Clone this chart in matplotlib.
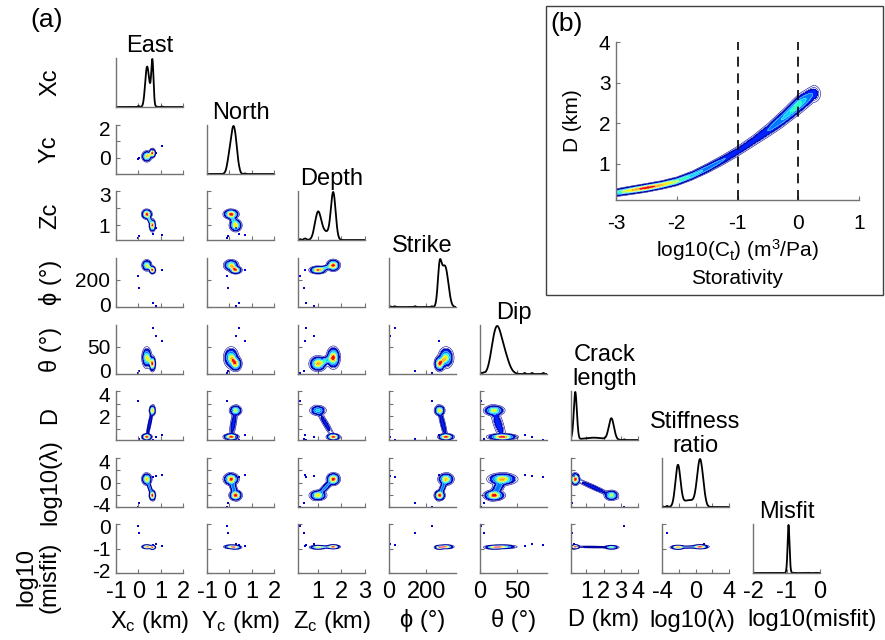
import numpy as np
import matplotlib
matplotlib.use('Agg')
import matplotlib.pyplot as plt
import matplotlib.transforms as mtransforms
from matplotlib.colors import ListedColormap
from matplotlib.patches import Rectangle

plt.rcParams['font.family'] = ['Liberation Sans', 'DejaVu Sans']
plt.rcParams['mathtext.fontset'] = 'custom'
plt.rcParams['mathtext.rm'] = 'Liberation Sans'
plt.rcParams['mathtext.it'] = 'Liberation Sans:italic'

# ---------------- (a) corner plot: parameters ----------------
row_labels = ['Xc', 'Yc', 'Zc', 'ϕ (°)', 'θ (°)', 'D', 'log10(λ)', 'log10\n(misfit)']
diag_titles = ['East', 'North', 'Depth', 'Strike', 'Dip', 'Crack\nlength', 'Stiffness\nratio', 'Misfit']
x_labels = ['X$_{\\rm c}$ (km)', 'Y$_{\\rm c}$ (km)', 'Z$_{\\rm c}$ (km)', 'ϕ (°)', 'θ (°)',
            'D (km)', 'log10(λ)', 'log10(misfit)']
lo = [-1, -1, 0.15, 0, 0, 0.1, -4, -2]
hi = [2, 2, 3, 360, 90, 4, 4, 0]
ticks = [[-1, 0, 1, 2], [-1, 0, 1, 2], [1, 2, 3], [0, 200], [0, 50], [1, 2, 3, 4], [-4, -2, 0, 2, 4], [-2, -1, 0]]
xtick_text = [['-1', '0', '1', '2'], ['-1', '0', '1', '2'], ['1', '2', '3'], ['0', '200'], ['0', '50'],
              ['1', '2', '3', '4'], ['-4', '', '0', '', '4'], ['-2', '-1', '0']]
ytick_text = [None, ['', '0', '', '2'], ['1', '', '3'], ['0', '200'], ['0', '50'],
              ['', '2', '', '4'], ['-4', '', '0', '', '4'], ['-2', '-1', '0']]

# two posterior modes (small crack / large crack), plus a bridge between them
mode_a_mean = [0.38, 0.08, 1.65, 306, 30, 0.35, 0.55, -0.93]
mode_a_sd = [0.08, 0.12, 0.10, 15, 7, 0.09, 0.35, 0.03]
mode_b_mean = [0.63, 0.28, 1.00, 272, 19, 2.45, -2.1, -0.95]
mode_b_sd = [0.05, 0.10, 0.13, 10, 5, 0.15, 0.30, 0.03]
mode_w = [0.48, 0.36, 0.16]

# isolated samples (Xc, Yc, Zc, phi, theta, D, log10 lambda, log10 misfit)
outliers = [[0.00, -0.10, 0.25, 230, 2, 3.2, -4.0, -0.10],
            [0.02, -0.05, 0.40, 140, 5, 0.15, -3.4, -0.35],
            [0.65, 0.45, 0.50, 30, 85, 0.10, 0.9, -0.85],
            [0.80, 0.30, 0.85, 5, 70, 0.30, 1.0, -0.80],
            [1.05, 0.70, 0.45, 270, 60, 0.50, 1.2, -0.90]]

# ---------------- (b) storativity vs crack length ----------------
ct_pts = [-3.0, -2.75, -2.5, -2.25, -2.0, -1.75, -1.5, -1.25, -1.0, -0.75, -0.5, -0.25, 0.0, 0.25]
d_pts = [0.28, 0.34, 0.40, 0.47, 0.56, 0.70, 0.88, 1.08, 1.30, 1.55, 1.82, 2.12, 2.45, 2.72]
dens_pts = [0.35, 0.70, 1.0, 0.75, 0.50, 0.35, 0.25, 0.15, 0.10, 0.10, 0.14, 0.30, 0.45, 0.12]
width_pts = [0.035, 0.035, 0.035, 0.035, 0.038, 0.04, 0.045, 0.05, 0.055, 0.06, 0.07, 0.08, 0.09, 0.09]
vlines_b = [-1, 0]


def components():
    ma = np.array(mode_a_mean, float)
    mb = np.array(mode_b_mean, float)
    sa = np.array(mode_a_sd, float)
    sb = np.array(mode_b_sd, float)
    d = mb - ma
    s = 0.6 * np.minimum(sa, sb)
    comps = [(mode_w[0], ma, np.diag(sa ** 2)),
             (mode_w[1], mb, np.diag(sb ** 2)),
             (mode_w[2], (ma + mb) / 2, np.outer(d, d) / 12 + np.diag(s ** 2))]
    return comps


comps = components()


def dens2(i, j, X, Y):
    Z = np.zeros_like(X)
    for w, m, C in comps:
        c = C[np.ix_([j, i], [j, i])]
        inv = np.linalg.inv(c)
        dx = X - m[j]
        dy = Y - m[i]
        q = inv[0, 0] * dx ** 2 + 2 * inv[0, 1] * dx * dy + inv[1, 1] * dy ** 2
        Z += w / (2 * np.pi * np.sqrt(np.linalg.det(c))) * np.exp(-0.5 * q)
    return Z / Z.max()


def dens1(i, x):
    y = np.zeros_like(x)
    for w, m, C in comps:
        sd = np.sqrt(C[i, i])
        y += w / sd * np.exp(-0.5 * ((x - m[i]) / sd) ** 2)
    sd = 0.012 * (hi[i] - lo[i])
    for o in outliers:
        y += 0.003 / sd * np.exp(-0.5 * ((x - o[i]) / sd) ** 2)
    return y / y.max()


jet = plt.get_cmap('jet')
fill_levels = [0.05, 0.09, 0.14, 0.2, 0.28, 0.37, 0.48, 0.6, 0.73, 0.87, 1.01]
fill_cmap = ListedColormap(jet(np.linspace(0.16, 0.9, len(fill_levels) - 1)))
line_levels = [0.008, 0.025]
navy = (0.0, 0.0, 0.6)
spine_col = '0.45'
FS = 17

fig = plt.figure(figsize=(8.85, 6.4), dpi=100)


def px_axes(x0, y0, w, h):
    return fig.add_axes([x0 / 885, 1 - (y0 + h) / 640, w / 885, h / 640])


def style(ax):
    for s in ['top', 'right']:
        ax.spines[s].set_visible(False)
    for s in ['left', 'bottom']:
        ax.spines[s].set_color(spine_col)
        ax.spines[s].set_linewidth(1.0)
    ax.tick_params(direction='in', length=3, width=0.8, color=spine_col, labelsize=FS)
    ax.tick_params(axis='x', pad=5.5)
    ax.tick_params(axis='y', pad=4, labelsize=15)


def draw_density(ax, X, Y, Z):
    ax.contour(X, Y, Z, levels=line_levels, colors=[navy], linewidths=0.4)
    ax.contourf(X, Y, Z, levels=fill_levels, cmap=fill_cmap)
    ax.contour(X, Y, Z, levels=fill_levels[:1], colors=[navy], linewidths=0.5)
    ax.contour(X, Y, Z, levels=fill_levels[2::2], colors='white', linewidths=0.2)


col_x = [116, 207, 298, 389, 480, 571, 662, 753]
row_y = [58, 125, 191, 258, 325, 391, 458, 524]
xlabel_cx = [150, 241, 332, 423, 514, 604, 692, 812]
W, H = 67, 49
n = 8

for i in range(n):
    for j in range(i + 1):
        ax = px_axes(col_x[j], row_y[i], W, H)
        style(ax)
        ax.set_xlim(lo[j], hi[j])
        ax.set_xticks(ticks[j])
        if i == j:
            x = np.linspace(lo[i], hi[i], 500)
            ax.plot(x, dens1(i, x), color='k', lw=1.3)
            ax.set_ylim(0, 1.02)
            ax.set_yticks([])
            ax.text(0.5, 1.03, diag_titles[i], transform=ax.transAxes, ha='center', va='bottom',
                    fontsize=FS, linespacing=1.1)
        else:
            gx = np.linspace(lo[j], hi[j], 160)
            gy = np.linspace(lo[i], hi[i], 160)
            X, Y = np.meshgrid(gx, gy)
            draw_density(ax, X, Y, dens2(i, j, X, Y))
            ox = [o[j] for o in outliers]
            oy = [o[i] for o in outliers]
            ax.scatter(ox, oy, s=3, marker='s', color=(0, 0, 0.8), lw=0)
            ax.set_ylim(lo[i], hi[i])
            ax.set_yticks(ticks[i])
            if j == 0:
                ax.set_yticklabels(ytick_text[i])
                # nudge the labels at the panel edges inwards so neighbouring rows do not collide
                for lab, t in zip(ax.get_yticklabels(), ticks[i]):
                    if t == lo[i] or t == hi[i]:
                        dy = 3 if t == lo[i] else -3
                        off = mtransforms.ScaledTranslation(0, dy / 100, fig.dpi_scale_trans)
                        lab.set_transform(lab.get_transform() + off)
            else:
                ax.set_yticklabels([])
        if i == n - 1:
            ax.set_xticklabels(xtick_text[j])
            ax.set_xlabel(x_labels[j], fontsize=FS)
            ax.xaxis.set_label_coords((xlabel_cx[j] - col_x[j]) / W, (H - (609 - row_y[i])) / H)
        else:
            ax.set_xticklabels([])

for i in range(n - 1):
    fig.text(50 / 885, 1 - (row_y[i] + H / 2) / 640, row_labels[i], rotation=90,
             ha='center', va='center', fontsize=FS)
fig.text(38 / 885, 1 - 577 / 640, row_labels[-1], rotation=90,
         ha='center', va='center', fontsize=FS, linespacing=1.1)

fig.text(47 / 885, 1 - 20 / 640, '(a)', ha='center', va='center', fontsize=19)

# ---------------- (b) inset ----------------
fig.add_artist(Rectangle((546 / 885, 1 - 295 / 640), (883 - 546) / 885, (295 - 6) / 640,
                         transform=fig.transFigure, fill=False, ec='0.25', lw=1.0))
fig.text(567 / 885, 1 - 24 / 640, '(b)', ha='center', va='center', fontsize=19)

axb = px_axes(616, 42, 243, 158)
style(axb)
axb.tick_params(labelsize=15)
axb.tick_params(axis='x', pad=10)
axb.tick_params(axis='y', pad=4)
gx = np.linspace(-3, 1, 600)
gy = np.linspace(0.1, 4, 500)
X, Y = np.meshgrid(gx, gy)
dc = np.interp(X, ct_pts, d_pts)
wc = np.interp(X, ct_pts, width_pts)
amp = np.interp(X, ct_pts, dens_pts)
tail = X > ct_pts[-1]
amp[tail] *= np.exp(-0.5 * ((X[tail] - ct_pts[-1]) / 0.05) ** 2)
Zb = amp * np.exp(-0.5 * ((Y - dc) / wc) ** 2)
Zb = Zb / Zb.max()
draw_density(axb, X, Y, Zb)
for v in vlines_b:
    axb.axvline(v, color='k', lw=1.2, dashes=(6, 4))
axb.set_xlim(-3, 1)
axb.set_ylim(0.1, 4)
axb.set_xticks([-3, -2, -1, 0, 1])
axb.set_xticklabels(['-3', '-2', '-1', '0', '1'])
axb.set_yticks([1, 2, 3, 4])
axb.set_ylabel('D (km)', fontsize=15, labelpad=12)
axb.set_xlabel('log10(C$_{\\rm t}$) (m$^{3}$/Pa)', fontsize=15, labelpad=3)
axb.text(0.5, -0.5, 'Storativity', transform=axb.transAxes, ha='center', va='center', fontsize=15)

fig.savefig('out.png', dpi=100)
